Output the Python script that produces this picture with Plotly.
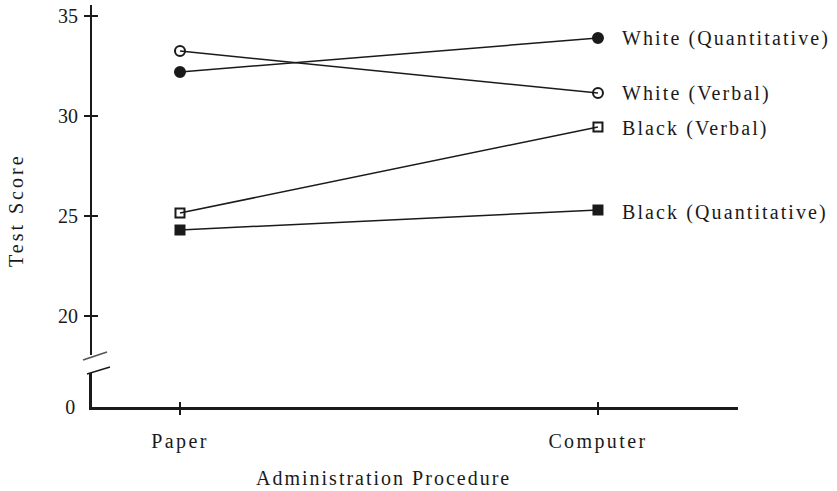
import plotly.graph_objects as go

# data
procedures = ["Paper", "Computer"]
white_quant = [32.2, 33.9]
white_verbal = [33.25, 31.15]
black_verbal = [25.15, 29.45]
black_quant = [24.3, 25.3]

series_names = ["White (Quantitative)", "White (Verbal)", "Black (Verbal)", "Black (Quantitative)"]
series_values = [white_quant, white_verbal, black_verbal, black_quant]
series_symbols = ["circle", "circle-open", "square-open", "square"]
label_nudge = [0, 0, -0.05, -0.1]

upper_ticks = [20, 25, 30, 35]

FONT = "Liberation Serif, Times New Roman, serif"
INK = "#1a1a1a"


def spaced(txt, px):
    # the print has wide letter spacing
    return '<span style="letter-spacing:%spx">%s</span>' % (px, txt)


fig = go.Figure()

for name, vals, sym in zip(series_names, series_values, series_symbols):
    fig.add_trace(go.Scatter(
        x=procedures, y=vals, name=name,
        mode="lines+markers",
        line=dict(color=INK, width=1.5),
        marker=dict(symbol=sym, size=10 if "circle" in sym else 9,
                    color=INK, line=dict(color=INK, width=2)),
        xaxis="x", yaxis="y2",
        showlegend=False,
    ))

# invisible traces so the bottom strip and the overlay axes exist
fig.add_trace(go.Scatter(x=procedures[:1], y=[0], xaxis="x", yaxis="y",
                         mode="markers", marker=dict(opacity=0), hoverinfo="skip", showlegend=False))
fig.add_trace(go.Scatter(x=[0], y=[20], xaxis="x2", yaxis="y3",
                         mode="markers", marker=dict(opacity=0), hoverinfo="skip", showlegend=False))

# series labels next to the computer points
annotations = []
for name, vals, nud in zip(series_names, series_values, label_nudge):
    annotations.append(dict(
        x=procedures[1], y=vals[1] + nud, xref="x", yref="y2",
        text=spaced(name, 2.1), showarrow=False, xanchor="left", yanchor="middle",
        xshift=22, font=dict(family=FONT, size=20, color=INK),
    ))

annotations.append(dict(
    x=-0.1176, y=0.49, xref="paper", yref="paper", text=spaced("Test Score", 3),
    textangle=-90, showarrow=False, xanchor="center", yanchor="middle",
    font=dict(family=FONT, size=20, color=INK),
))
annotations.append(dict(
    x=0.4505, y=-0.1766, xref="paper", yref="paper", text=spaced("Administration Procedure", 2),
    showarrow=False, xanchor="center", yanchor="middle",
    font=dict(family=FONT, size=20, color=INK),
))

# axis break slashes
shapes = [
    dict(type="line", xref="paper", yref="paper",
         x0=(83 - 92) / 646, y0=(407 - 360) / 402, x1=(107 - 92) / 646, y1=(407 - 352) / 402,
         line=dict(color="#555", width=1.5)),
    dict(type="line", xref="paper", yref="paper",
         x0=(87 - 92) / 646, y0=(407 - 374) / 402, x1=(110 - 92) / 646, y1=(407 - 367) / 402,
         line=dict(color=INK, width=1.5)),
]

xr = [-0.2105, 1.335]
y2r = [18.05, 35.55]

fig.update_layout(
    width=837, height=491,
    margin=dict(l=92, r=99, t=5, b=84),
    paper_bgcolor="white", plot_bgcolor="white",
    font=dict(family=FONT, size=20, color=INK),
    xaxis=dict(
        type="category", range=xr, anchor="y",
        showline=True, linecolor=INK, linewidth=2.5,
        showgrid=False, zeroline=False,
        tickvals=procedures, ticktext=[spaced(p, 2.4) for p in procedures],
        ticks="outside", ticklen=5, tickwidth=1.5, tickcolor=INK,
        ticklabelstandoff=9,
        tickfont=dict(family=FONT, size=20, color=INK),
    ),
    xaxis2=dict(
        overlaying="x", anchor="y", range=xr,
        tickvals=[0, 1], showticklabels=False,
        ticks="inside", ticklen=5, tickwidth=1.5, tickcolor=INK,
        showgrid=False, zeroline=False, showline=False,
    ),
    yaxis=dict(
        domain=[0, 34 / 402], range=[0, 1.7], anchor="x",
        showline=True, linecolor=INK, linewidth=2.5,
        showgrid=False, zeroline=False,
        tickvals=[0], ticktext=["0"], ticks="",
        ticklabelstandoff=10,
        tickfont=dict(family=FONT, size=20, color=INK),
    ),
    yaxis2=dict(
        domain=[52 / 402, 1], range=y2r, anchor="x",
        showline=True, linecolor=INK, linewidth=2,
        showgrid=False, zeroline=False,
        tickvals=upper_ticks, ticks="outside", ticklen=6, tickwidth=1.5, tickcolor=INK,
        ticklabelstandoff=2,
        tickfont=dict(family=FONT, size=20, color=INK),
    ),
    yaxis3=dict(
        domain=[52 / 402, 1], range=y2r, anchor="x", overlaying="y2",
        tickvals=upper_ticks, showticklabels=False,
        ticks="inside", ticklen=6, tickwidth=1.5, tickcolor=INK,
        showgrid=False, zeroline=False, showline=False,
    ),
    annotations=annotations,
    shapes=shapes,
)

fig.write_html("out.html", config={"displayModeBar": False},
               post_script="document.body.style.margin='0px';")
